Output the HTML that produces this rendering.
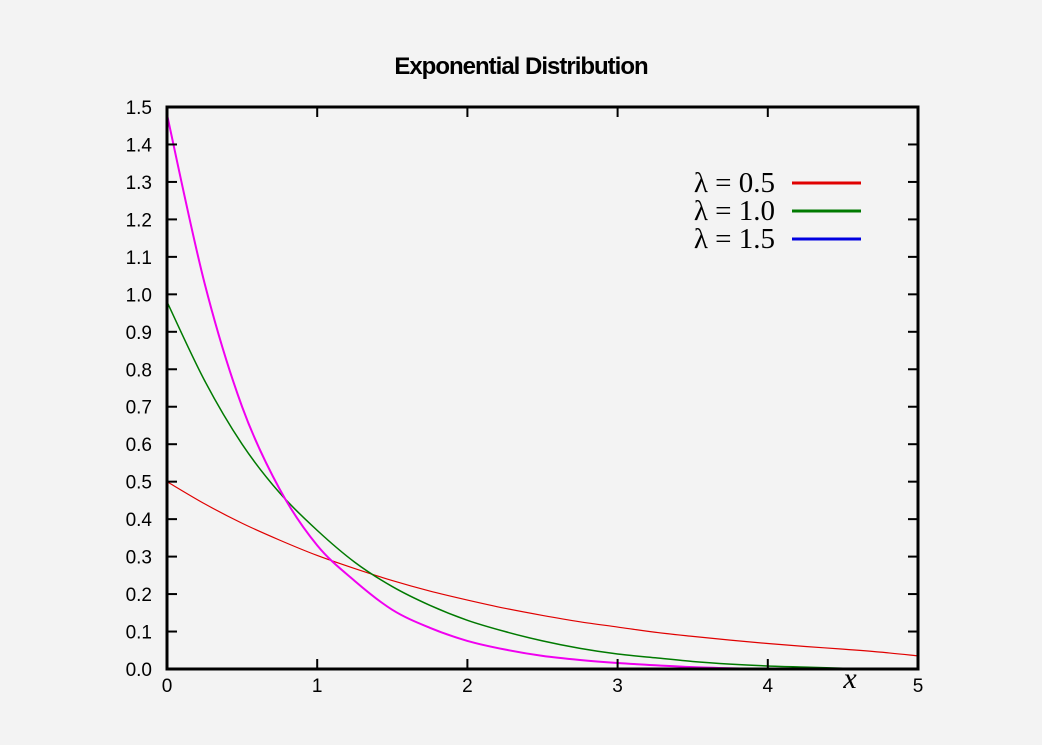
<!DOCTYPE html>
<html><head><meta charset="utf-8"><style>
html,body{margin:0;padding:0;background:#f3f3f3;}
svg{display:block;}
</style></head><body>
<svg id="chart" width="1042" height="745">
<rect x="0" y="0" width="1042" height="745" fill="#f3f3f3"/>
<text x="521" y="74" text-anchor="middle" font-family="Liberation Sans, sans-serif" font-weight="bold" font-size="24" letter-spacing="-1">Exponential Distribution</text>
<g id="plot"></g>
</svg>
<script>
const xs=[0,0.25,0.5,0.75,1,1.25,1.5,1.75,2,2.25,2.5,2.75,3,3.25,3.5,3.75,4,4.25,4.5,4.75,5];
const redVals=[0.5,0.441,0.389,0.344,0.303,0.268,0.236,0.208,0.184,0.162,0.143,0.126,0.112,0.098,0.087,0.077,0.068,0.060,0.053,0.045,0.035];
const greenVals=[0.98,0.77,0.60,0.47,0.37,0.285,0.22,0.17,0.13,0.10,0.075,0.055,0.04,0.03,0.02,0.013,0.008,0.005,0.002,0.0,0.0];
const magentaVals=[1.48,1.03,0.70,0.48,0.33,0.235,0.158,0.11,0.075,0.052,0.035,0.024,0.016,0.01,0.005,0.002,0.0,0.0,0.0,0.0,0.0];
const xTicks=[0,1,2,3,4,5];
const yTicks=[0,0.1,0.2,0.3,0.4,0.5,0.6,0.7,0.8,0.9,1.0,1.1,1.2,1.3,1.4,1.5];
const legendLabels=["λ = 0.5","λ = 1.0","λ = 1.5"];
const legendColors=["#e00000","#007a00","#0000e0"];

const L=167,R=918,T=107,B=669;
const sx=v=>L+(v-0)/(5-0)*(R-L);
const sy=v=>B-(v-0)/(1.5-0)*(B-T);
const NS="http://www.w3.org/2000/svg";
const g=document.getElementById('plot');
function mk(tag,attrs){const e=document.createElementNS(NS,tag);for(const k in attrs)e.setAttribute(k,attrs[k]);g.appendChild(e);return e;}

function path(vals){
  const p=xs.map((x,i)=>[sx(x),sy(vals[i])]);
  let d=`M${p[0][0]},${p[0][1]}`;
  for(let i=0;i<p.length-1;i++){
    const p0=p[Math.max(0,i-1)],p1=p[i],p2=p[i+1],p3=p[Math.min(p.length-1,i+2)];
    let c1y=p1[1]+(p2[1]-p0[1])/6, c2y=p2[1]-(p3[1]-p1[1])/6;
    const lo=Math.min(p1[1],p2[1]),hi=Math.max(p1[1],p2[1]);
    c1y=Math.min(hi,Math.max(lo,c1y));c2y=Math.min(hi,Math.max(lo,c2y));
    d+=` C${p1[0]+(p2[0]-p0[0])/6},${c1y} ${p2[0]-(p3[0]-p1[0])/6},${c2y} ${p2[0]},${p2[1]}`;
  }
  return d;
}
let e;
e=mk('path',{d:path(redVals),fill:'none',stroke:'#e00000','stroke-width':1.2});


e=mk('path',{d:path(greenVals),fill:'none',stroke:'#007a00','stroke-width':1.5});


e=mk('path',{d:path(magentaVals),fill:'none',stroke:'#f000f0','stroke-width':2});



e=mk('rect',{x:L,y:T,width:R-L,height:B-T,fill:'none',stroke:'#000','stroke-width':3});



xTicks.forEach(v=>{
  const x=sx(v);
  mk('line',{x1:x,y1:B,x2:x,y2:B-10,stroke:'#000','stroke-width':2});
  mk('line',{x1:x,y1:T,x2:x,y2:T+10,stroke:'#000','stroke-width':2});
  const t=mk('text',{x:x,y:B+23,'text-anchor':'middle','font-family':'Liberation Sans, sans-serif','font-size':19});
  t.textContent=v;
  
  
});
yTicks.forEach(v=>{
  const y=sy(v);
  mk('line',{x1:L,y1:y,x2:L+10,y2:y,stroke:'#000','stroke-width':2});
  mk('line',{x1:R,y1:y,x2:R-10,y2:y,stroke:'#000','stroke-width':2});
  const t=mk('text',{x:152,y:y+7,'text-anchor':'end','font-family':'Liberation Sans, sans-serif','font-size':19});
  t.textContent=v.toFixed(1);
  
  
});
e=mk('text',{x:850,y:688,'text-anchor':'middle','font-family':'Liberation Serif, serif','font-style':'italic','font-size':30});
e.textContent='x';



legendLabels.forEach((lab,i)=>{
  const y=183+i*28;
  const t=mk('text',{x:775,y:y+9,'text-anchor':'end','font-family':'Liberation Serif, serif','font-size':29});
  t.textContent=lab;
  
  
  const l=mk('line',{x1:792,y1:y,x2:861,y2:y,stroke:legendColors[i],'stroke-width':3});
  
  
});
</script>
</body></html>
